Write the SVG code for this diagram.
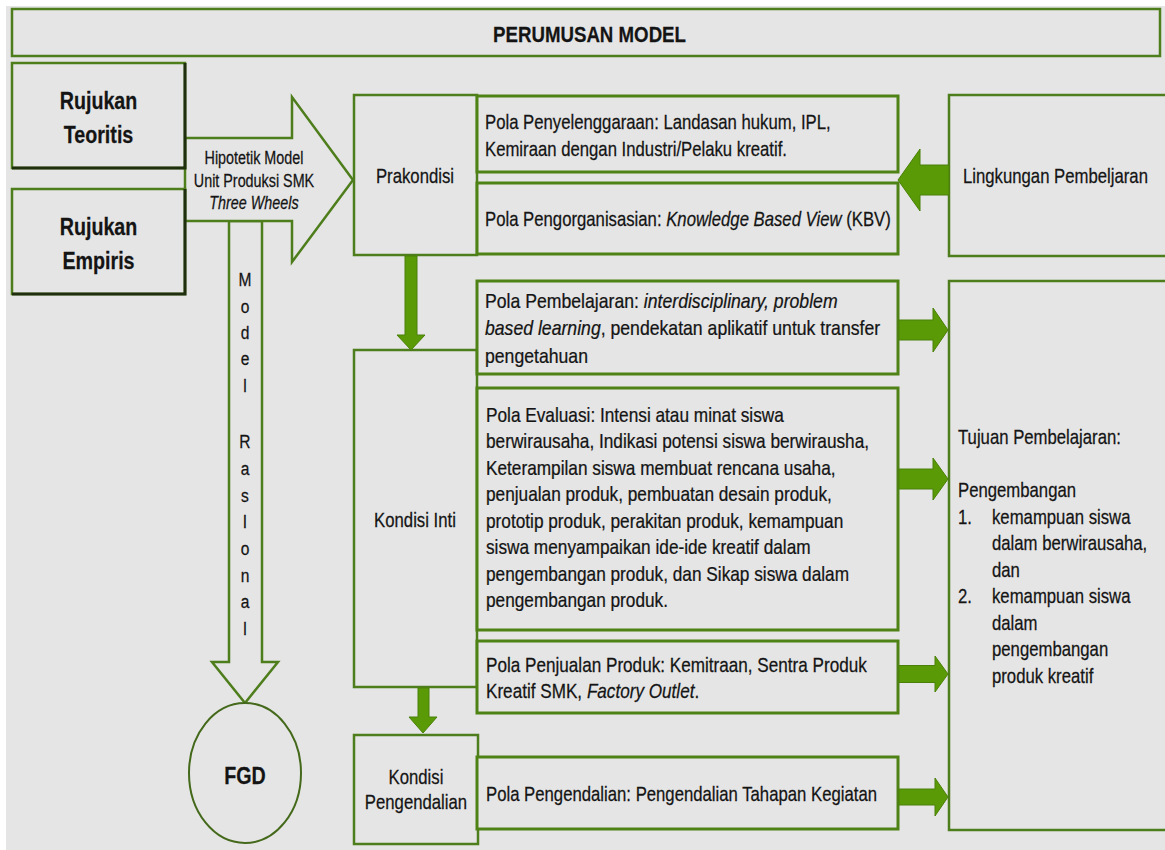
<svg xmlns="http://www.w3.org/2000/svg" width="1165" height="850" viewBox="0 0 1165 850">
<style>
.bg{fill:#e5e5e5}
.box{fill:#e5e5e5;stroke:#4e7d1c;stroke-width:2.5}
.pola{fill:#e5e5e5;stroke:#4f8214;stroke-width:3}
.dark{fill:none;stroke:#1f2e0d;stroke-width:3}
.hollow{fill:#e5e5e5;stroke:#4e7d1c;stroke-width:2.5}
.solid{fill:#5a9a06;stroke:#4b8008;stroke-width:1}
.circ{fill:#e5e5e5;stroke:#44691a;stroke-width:2}
text{font-family:"Liberation Sans",Arial,sans-serif;fill:#141414;stroke:#141414;stroke-width:0.25;font-size:20.4px}
.c{text-anchor:middle}
.b{font-weight:bold}
.i{font-style:italic}
.hdr{font-size:22.8px}
.big{font-size:24px}
.sm{font-size:17.5px}
.v{font-size:19px}
</style>
<rect width="1165" height="850" fill="#ffffff"/>
<rect x="6" y="6" width="1159" height="844" class="bg"/>

<g id="connectors">
  <polygon class="hollow" points="229,221 262,221 262,662 278,662 245,703 212,662 229,662"/>
  <polygon class="hollow" points="185,138 292,138 292,97 353,180 292,262 292,221 185,221"/>
  <g transform="scale(0.82 1)">
    <text class="c sm" x="309.76" y="164">Hipotetik Model</text>
    <text class="c sm" x="309.76" y="187">Unit Produksi SMK</text>
    <text class="c sm i" x="309.76" y="209">Three Wheels</text>
    <text class="c v" x="298.78" y="286">M</text>
    <text class="c v" x="298.78" y="313">o</text>
    <text class="c v" x="298.78" y="339">d</text>
    <text class="c v" x="298.78" y="365">e</text>
    <text class="c v" x="298.78" y="392">l</text>
    <text class="c v" x="298.78" y="448">R</text>
    <text class="c v" x="298.78" y="475">a</text>
    <text class="c v" x="298.78" y="502">s</text>
    <text class="c v" x="298.78" y="528">I</text>
    <text class="c v" x="298.78" y="555">o</text>
    <text class="c v" x="298.78" y="582">n</text>
    <text class="c v" x="298.78" y="608">a</text>
    <text class="c v" x="298.78" y="635">l</text>
  </g>
</g>

<g id="title">
  <rect class="box" x="12" y="9" width="1148" height="47"/>
  <g transform="scale(0.82 1)">
    <text class="c b hdr" x="718.9" y="42.5">PERUMUSAN MODEL</text>
  </g>
</g>

<g id="rujukan-teoritis">
  <rect class="box" x="12" y="63" width="173" height="105"/>
  <polyline class="dark" points="185,63 185,168 12,168"/>
  <g transform="scale(0.82 1)">
    <text class="c b big" x="120.12" y="109">Rujukan</text>
    <text class="c b big" x="120.12" y="143">Teoritis</text>
  </g>
</g>

<g id="rujukan-empiris">
  <rect class="box" x="12" y="189" width="173" height="105"/>
  <polyline class="dark" points="185,189 185,294 12,294"/>
  <g transform="scale(0.82 1)">
    <text class="c b big" x="120.12" y="235">Rujukan</text>
    <text class="c b big" x="120.12" y="269">Empiris</text>
  </g>
</g>

<g id="fgd">
  <ellipse class="circ" cx="245" cy="773" rx="56" ry="70"/>
  <g transform="scale(0.82 1)">
    <text class="c b" x="298.78" y="784" style="font-size:24px">FGD</text>
  </g>
</g>

<g id="prakondisi">
  <rect class="box" x="354" y="95" width="123" height="160"/>
  <g transform="scale(0.82 1)">
    <text class="c" x="506.1" y="183">Prakondisi</text>
  </g>
</g>

<g id="kondisi-inti">
  <rect class="box" x="354" y="350" width="123" height="337"/>
  <g transform="scale(0.82 1)">
    <text class="c" x="506.1" y="527">Kondisi Inti</text>
  </g>
</g>

<g id="kondisi-pengendalian">
  <rect class="box" x="354" y="735" width="124" height="109"/>
  <g transform="scale(0.82 1)">
    <text class="c" x="507.32" y="784">Kondisi</text>
    <text class="c" x="507.32" y="809">Pengendalian</text>
  </g>
</g>

<g id="pola-penyelenggaraan">
  <rect class="pola" x="477" y="96" width="421" height="76"/>
  <g transform="scale(0.82 1)">
    <text x="591.46" y="129">Pola Penyelenggaraan: Landasan hukum, IPL,</text>
    <text x="591.46" y="156">Kemiraan dengan Industri/Pelaku kreatif.</text>
  </g>
</g>

<g id="pola-pengorganisasian">
  <rect class="pola" x="477" y="183" width="421" height="71"/>
  <g transform="scale(0.82 1)">
    <text x="591.46" y="226">Pola Pengorganisasian: <tspan class="i">Knowledge Based View</tspan> (KBV)</text>
  </g>
</g>

<g id="pola-pembelajaran">
  <rect class="pola" x="477" y="281" width="421" height="93"/>
  <g transform="scale(0.865 1)">
    <text x="560.69" y="308">Pola Pembelajaran: <tspan class="i">interdisciplinary, problem</tspan></text>
    <text x="560.69" y="335"><tspan class="i">based learning</tspan>, pendekatan aplikatif untuk transfer</text>
    <text x="560.69" y="363">pengetahuan</text>
  </g>
</g>

<g id="pola-evaluasi">
  <rect class="pola" x="477" y="388" width="421" height="242"/>
  <g transform="scale(0.845 1)">
    <text x="575.15" y="422">Pola Evaluasi: Intensi atau minat siswa</text>
    <text x="575.15" y="448.5">berwirausaha, Indikasi potensi siswa berwirausha,</text>
    <text x="575.15" y="475">Keterampilan siswa membuat rencana usaha,</text>
    <text x="575.15" y="501.5">penjualan produk, pembuatan desain produk,</text>
    <text x="575.15" y="528">prototip produk, perakitan produk, kemampuan</text>
    <text x="575.15" y="554.5">siswa menyampaikan ide-ide kreatif dalam</text>
    <text x="575.15" y="581">pengembangan produk, dan Sikap siswa dalam</text>
    <text x="575.15" y="607.5">pengembangan produk.</text>
  </g>
</g>

<g id="pola-penjualan">
  <rect class="pola" x="477" y="641" width="421" height="72"/>
  <g transform="scale(0.84 1)">
    <text x="578.57" y="672">Pola Penjualan Produk: Kemitraan, Sentra Produk</text>
    <text x="578.57" y="698">Kreatif SMK, <tspan class="i">Factory Outlet</tspan>.</text>
  </g>
</g>

<g id="pola-pengendalian">
  <rect class="pola" x="477" y="757" width="421" height="72"/>
  <g transform="scale(0.82 1)">
    <text x="592.68" y="801">Pola Pengendalian: Pengendalian Tahapan Kegiatan</text>
  </g>
</g>

<g id="lingkungan-pembelajaran">
  <rect class="box" x="949" y="95" width="222" height="161"/>
  <g transform="scale(0.82 1)">
    <text x="1174.39" y="183">Lingkungan Pembeljaran</text>
  </g>
</g>

<g id="tujuan-pembelajaran">
  <rect class="box" x="949" y="281" width="222" height="549"/>
  <g transform="scale(0.82 1)">
    <text x="1168.29" y="444">Tujuan Pembelajaran:</text>
    <text x="1168.29" y="497">Pengembangan</text>
    <text x="1168.29" y="524">1.</text>
    <text x="1209.76" y="524">kemampuan siswa</text>
    <text x="1209.76" y="550">dalam berwirausaha,</text>
    <text x="1209.76" y="577">dan</text>
    <text x="1168.29" y="603">2.</text>
    <text x="1209.76" y="603">kemampuan siswa</text>
    <text x="1209.76" y="630">dalam</text>
    <text x="1209.76" y="656">pengembangan</text>
    <text x="1209.76" y="683">produk kreatif</text>
  </g>
</g>

<g id="solid-arrows">
  <polygon class="solid" points="949,165 920,165 920,149 898,180 920,211 920,195 949,195"/>
  <polygon class="solid" points="405,256 417,256 417,335 425,335 411,350 397,335 405,335"/>
  <polygon class="solid" points="418,688 429,688 429,717 437,717 423,733 409,717 418,717"/>
  <polygon class="solid" points="899,320 933,320 933,308 948,330 933,352 933,340 899,340"/>
  <polygon class="solid" points="899,469 933,469 933,458 948,479 933,500 933,489 899,489"/>
  <polygon class="solid" points="899,665.5 935,665.5 935,656 948,674 935,692 935,682.5 899,682.5"/>
  <polygon class="solid" points="899,789 935,789 935,778 948,797 935,816 935,805 899,805"/>
</g>
</svg>
